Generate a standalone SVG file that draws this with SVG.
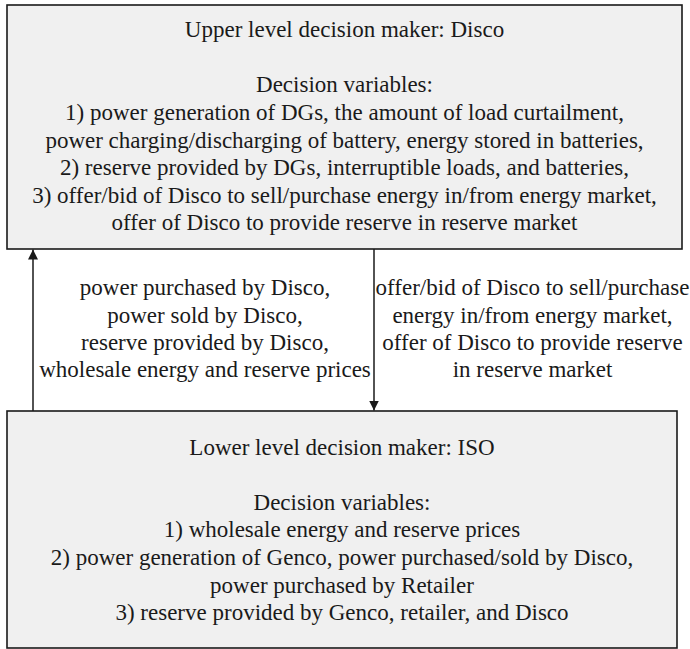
<svg xmlns="http://www.w3.org/2000/svg" width="690" height="649" viewBox="0 0 690 649">
<style>
.box{fill:#f0f0f0;stroke:#1a1a1a;stroke-width:1.6}
text{font-family:"Liberation Serif","Times New Roman",serif;font-size:23px;fill:#1a1a1a;text-anchor:middle}
.conn{stroke:#1a1a1a;stroke-width:1.5;fill:none}
</style>
<defs>
<marker id="ah" viewBox="0 0 10 10" refX="10" refY="5" markerWidth="10" markerHeight="10" markerUnits="userSpaceOnUse" orient="auto">
<path d="M0,0 L10,5 L0,10 Z" fill="#1a1a1a"/>
</marker>
</defs>
<rect width="690" height="649" fill="#ffffff"/>
<g id="upper">
<rect class="box" x="7" y="5" width="675" height="244"/>
<text x="344.5" y="37">Upper level decision maker: Disco</text>
<text x="344.5" y="92">Decision variables:</text>
<text x="344.5" y="120">1) power generation of DGs, the amount of load curtailment,</text>
<text x="344.5" y="147.5">power charging/discharging of battery, energy stored in batteries,</text>
<text x="344.5" y="175">2) reserve provided by DGs, interruptible loads, and batteries,</text>
<text x="344.5" y="202.5">3) offer/bid of Disco to sell/purchase energy in/from energy market,</text>
<text x="344.5" y="230">offer of Disco to provide reserve in reserve market</text>
</g>
<g id="lower">
<rect class="box" x="7" y="411" width="670" height="237"/>
<text x="342" y="455">Lower level decision maker: ISO</text>
<text x="342" y="510">Decision variables:</text>
<text x="342" y="537">1) wholesale energy and reserve prices</text>
<text x="342" y="565">2) power generation of Genco, power purchased/sold by Disco,</text>
<text x="342" y="592.5">power purchased by Retailer</text>
<text x="342" y="620">3) reserve provided by Genco, retailer, and Disco</text>
</g>
<g id="connectors">
<line class="conn" x1="33" y1="411" x2="33" y2="249.5" marker-end="url(#ah)"/>
<line class="conn" x1="374" y1="249" x2="374" y2="410.5" marker-end="url(#ah)"/>
<g id="label-up">
<text x="205" y="295">power purchased by Disco,</text>
<text x="205" y="322.5">power sold by Disco,</text>
<text x="205" y="350">reserve provided by Disco,</text>
<text x="205" y="377">wholesale energy and reserve prices</text>
</g>
<g id="label-down">
<text x="532.5" y="295">offer/bid of Disco to sell/purchase</text>
<text x="532.5" y="322.5">energy in/from energy market,</text>
<text x="532.5" y="350">offer of Disco to provide reserve</text>
<text x="532.5" y="377">in reserve market</text>
</g>
</g>
</svg>
